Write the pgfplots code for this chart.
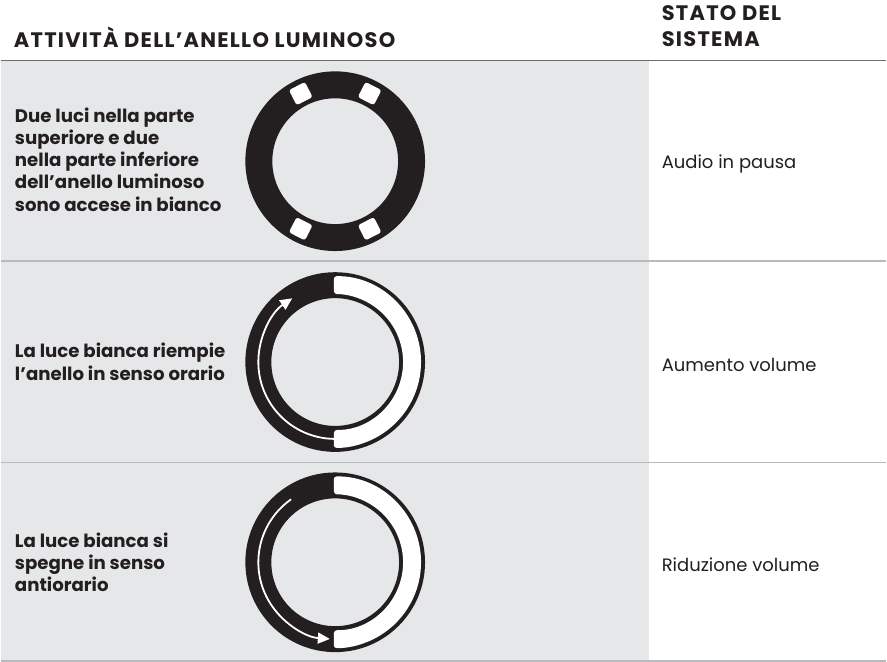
\documentclass[border=0pt]{standalone}
\usepackage{fontspec}
\setmainfont{Poppins}
\newfontfamily\hdr{Poppins}[LetterSpace=6]
\usepackage{pgfplots}
\pgfplotsset{compat=1.18}
\usetikzlibrary{arrows.meta}
\definecolor{bg}{HTML}{E6E7E8}
\definecolor{ink}{HTML}{231F20}
\definecolor{hline}{HTML}{6D6E71}
\definecolor{sline}{HTML}{B8BABC}
\tikzset{lamp/.style={fill=white, inner sep=0, minimum width=18pt, minimum height=17pt, rounded corners=2.5pt, rotate=#1}}
\begin{document}
\begin{tikzpicture}
\begin{axis}[
  scale only axis, width=887pt, height=663pt,
  xmin=0, xmax=887, ymin=0, ymax=663,
  hide axis, clip=false]
% page background and grey column
\fill[white] (axis cs:0,0) rectangle (axis cs:887,663);
\fill[bg] (axis cs:0,1) rectangle (axis cs:649,601.5);
% rules
\draw[hline, line width=1.6pt] (axis cs:0,602.3) -- (axis cs:887,602.3);
\draw[sline, line width=1.4pt] (axis cs:0,401.5) -- (axis cs:887,401.5);
\draw[sline, line width=1.4pt] (axis cs:0,199.5) -- (axis cs:887,199.5);
\draw[sline, line width=1.4pt] (axis cs:0,1.0) -- (axis cs:887,1.0);
% header
\node[anchor=base west, inner sep=0, text=ink, font=\hdr\fontsize{21}{22}\selectfont\bfseries] at (axis cs:13,615.5) {ATTIVITÀ DELL’ANELLO LUMINOSO};
\node[anchor=base west, inner sep=0, text=ink, font=\hdr\fontsize{21}{22}\selectfont\bfseries] at (axis cs:662,642) {STATO DEL};
\node[anchor=base west, inner sep=0, text=ink, font=\hdr\fontsize{21}{22}\selectfont\bfseries] at (axis cs:662,616) {SISTEMA};
% row texts
\begin{scope}[every node/.style={anchor=base west, inner sep=0, text=ink, font=\fontsize{18.2}{22}\selectfont\bfseries}]
\node at (axis cs:14,540.7) {Due luci nella parte};
\node at (axis cs:14,518.3) {superiore e due};
\node at (axis cs:14,496.0) {nella parte inferiore};
\node at (axis cs:14,473.7) {dell’anello luminoso};
\node at (axis cs:14,451.3) {sono accese in bianco};
\node at (axis cs:14,304.7) {La luce bianca riempie};
\node at (axis cs:14,282.3) {l’anello in senso orario};
\node at (axis cs:14,114.7) {La luce bianca si};
\node at (axis cs:14,92.3) {spegne in senso};
\node at (axis cs:14,70.0) {antiorario};
\end{scope}
\begin{scope}[every node/.style={anchor=base west, inner sep=0, text=ink, font=\fontsize{18}{22}\selectfont}]
\node at (axis cs:662,493.7) {Audio in pausa};
\node at (axis cs:662,290.7) {Aumento volume};
\node at (axis cs:662,90.7) {Riduzione volume};
\end{scope}
% ring 1
\fill[ink, even odd rule] (axis cs:335,501.5) circle[radius=90pt] (axis cs:335,501.5) circle[radius=63pt];
\path (axis cs:335,501.5) ++(63:76pt) node[lamp=-27] {};
\path (axis cs:335,501.5) ++(117:76pt) node[lamp=27] {};
\path (axis cs:335,501.5) ++(243:76pt) node[lamp=153] {};
\path (axis cs:335,501.5) ++(297:76pt) node[lamp=207] {};
% ring 2
\fill[ink, even odd rule] (axis cs:335,300.3) circle[radius=90pt] (axis cs:335,300.3) circle[radius=64pt];
\fill[white, rounded corners=3pt] (axis cs:335,300.3) ++(91:86pt) arc[start angle=91, end angle=-91, radius=86pt] -- ++(-91:-18pt) arc[start angle=-91, end angle=91, radius=68pt] -- cycle;
\draw[white, line width=1.8pt, -{Triangle[length=12pt, width=11pt]}] (axis cs:335,300.3) ++(269:77pt) arc[start angle=269, end angle=124, radius=77pt];
% ring 3
\fill[ink, even odd rule] (axis cs:335,99.7) circle[radius=90pt] (axis cs:335,99.7) circle[radius=64pt];
\fill[white, rounded corners=3pt] (axis cs:335,99.7) ++(91:86pt) arc[start angle=91, end angle=-91, radius=86pt] -- ++(-91:-18pt) arc[start angle=-91, end angle=91, radius=68pt] -- cycle;
\draw[white, line width=1.8pt, -{Triangle[length=12pt, width=11pt]}] (axis cs:335,99.7) ++(125:77pt) arc[start angle=125, end angle=266, radius=77pt];
\end{axis}
\end{tikzpicture}
\end{document}
